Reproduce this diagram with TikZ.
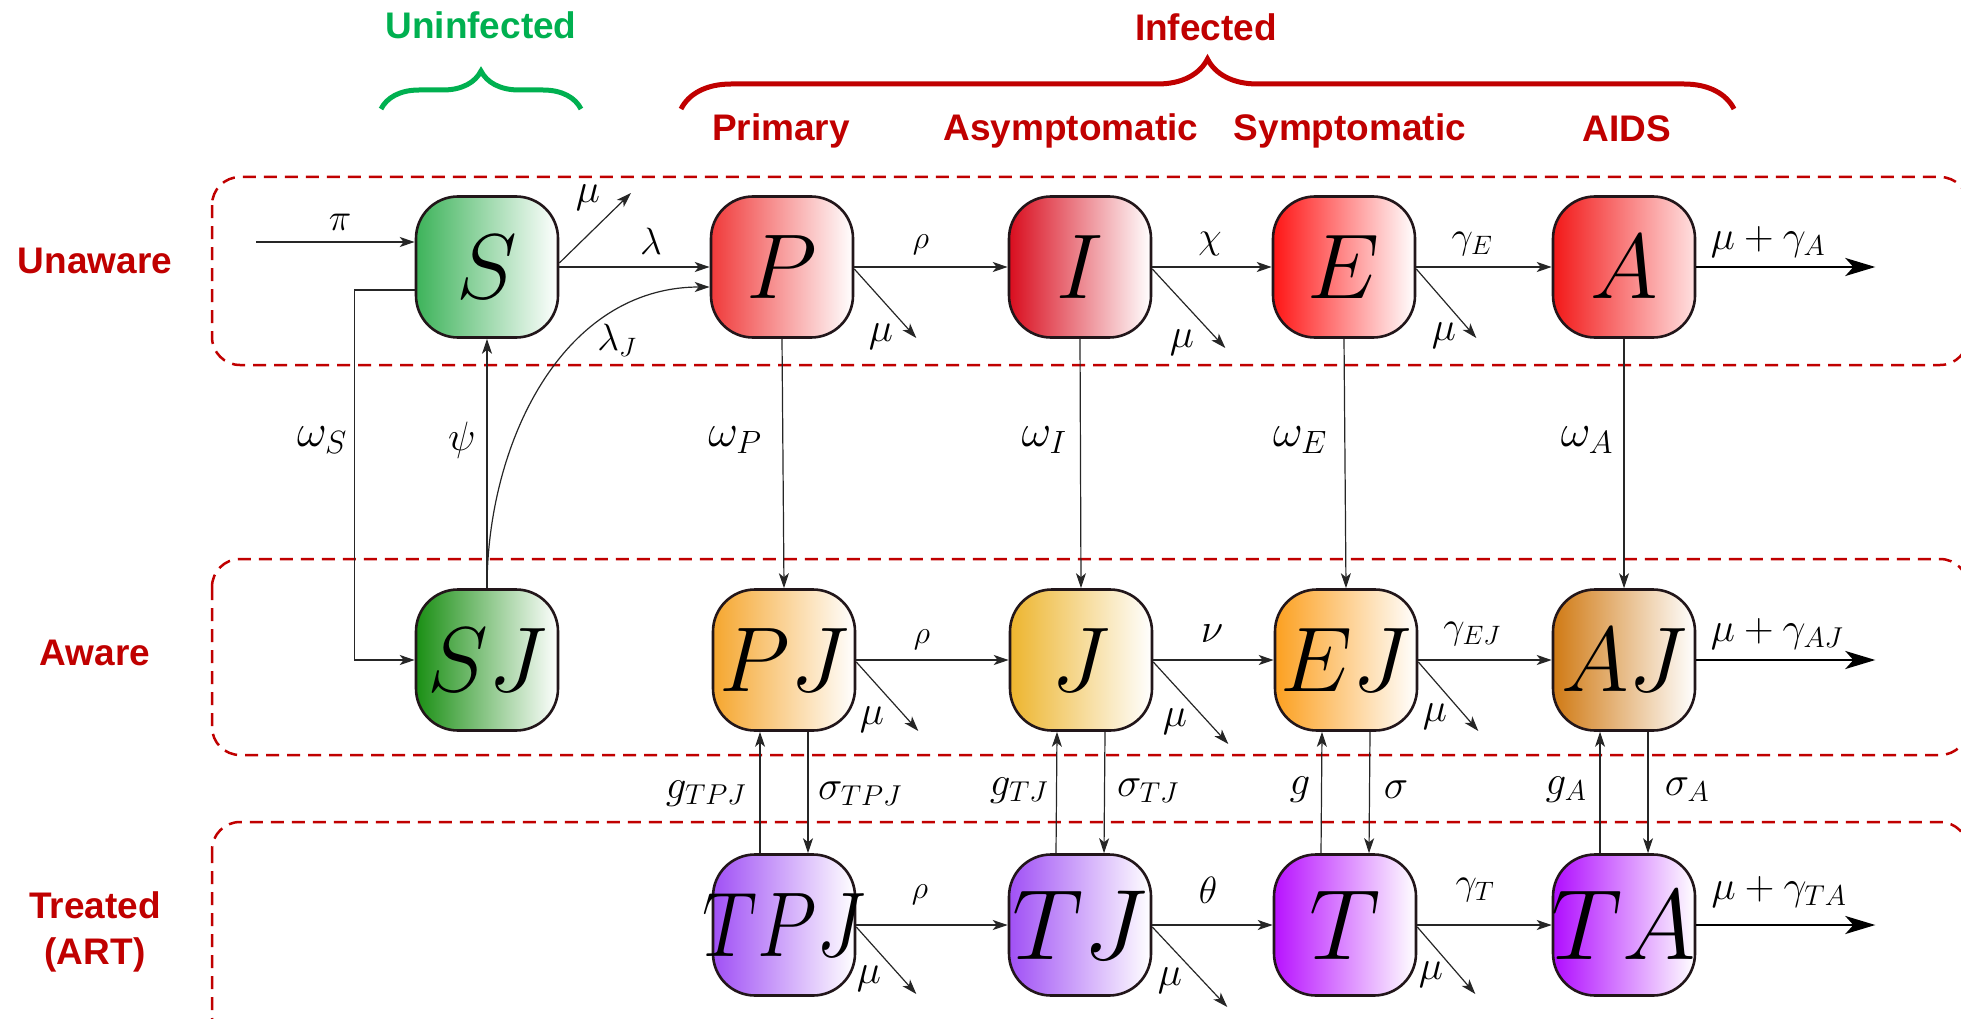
\RequirePackage{fix-cm}
\documentclass[tikz,border=0pt]{standalone}
\usepackage[no-math]{fontspec}
\newfontfamily\labfont{Liberation Sans}
\usepackage{graphicx}
\usetikzlibrary{arrows.meta,decorations.pathreplacing}

\definecolor{darkred}{HTML}{C00000}
\definecolor{lgreen}{HTML}{00B050}
\definecolor{boxline}{HTML}{22161A}
\definecolor{cS}{HTML}{3DB35A}
\definecolor{cSJ}{HTML}{1A8F14}
\definecolor{cP}{HTML}{F03A3A}
\definecolor{cI}{HTML}{D90D1E}
\definecolor{cE}{HTML}{FF1515}
\definecolor{cA}{HTML}{F21818}
\definecolor{cPJ}{HTML}{F5A62E}
\definecolor{cJ}{HTML}{EDB52E}
\definecolor{cEJ}{HTML}{FCA020}
\definecolor{cAJ}{HTML}{D07A14}
\definecolor{cTPJ}{HTML}{A050F5}
\definecolor{cTJ}{HTML}{A050F5}
\definecolor{cT}{HTML}{B812FF}
\definecolor{cTA}{HTML}{B00DFF}

\tikzset{
  comp/.style={draw=boxline, line width=2.6pt, rounded corners=42pt,
    minimum width=142pt, minimum height=141pt, inner sep=0pt,
    right color=white, font=\fontsize{92}{92}\selectfont},
  compb/.style={comp, font=\fontsize{100}{100}\selectfont},
  conn/.style={line width=1.2pt, draw=black!85,
    -{Stealth[length=15pt,width=10pt,inset=4pt]}},
  outconn/.style={line width=2.4pt,
    -{Stealth[length=30pt,width=18pt,inset=8pt]}},
  rate/.style={inner sep=0pt, font=\fontsize{41}{41}\selectfont},
  ratew/.style={inner sep=0pt, font=\fontsize{46}{46}\selectfont},
  ratem/.style={inner sep=0pt, font=\fontsize{38}{38}\selectfont},
  rates/.style={inner sep=0pt, font=\fontsize{32}{32}\selectfont},
  grp/.style={inner sep=0pt, text=darkred, align=center,
    font=\labfont\bfseries\fontsize{37}{46}\selectfont},
  zone/.style={draw=darkred, line width=2.5pt, dash pattern=on 13pt off 8pt,
    rounded corners=28pt},
}

\begin{document}
\begin{tikzpicture}[x=1pt,y=-1pt]
\useasboundingbox (0,0) rectangle (1961,1019);
\clip (0,0) rectangle (1961,1019);

% zones
\draw[zone] (212,177) rectangle (1968,365);
\draw[zone] (212,559) rectangle (1968,755);
\draw[zone] (212,822) rectangle (1968,1045);

% group labels
\node[grp] (lUnaware) at (95,261) {Unaware};
\node[grp] (lAware) at (95,653) {Aware};
\node[grp] (lTreated) at (95,932) {Treated\\(ART)};
\node[grp, text=lgreen] (lUninf) at (481,25) {Uninfected};
\node[grp] (lInf) at (1206,27) {Infected};
\node[grp] (lPrim) at (781,131) {Primary};
\node[grp] (lAsym) at (1071,131) {Asymptomatic};
\node[grp] (lSym) at (1350,131) {Symptomatic};
\node[grp] (lAids) at (1627,129) {AIDS};

% braces
\draw[lgreen, line width=5pt, decorate, decoration={brace, amplitude=38pt}]
  (381,109) -- (581,109);
\draw[darkred, line width=5pt, decorate, decoration={brace, amplitude=50pt}]
  (681,109) -- (1734,109);

% compartments
\node[comp, left color=cS] (S) at (487,267) {$S$};
\node[comp, left color=cP] (P) at (782,267) {$P$};
\node[comp, left color=cI] (I) at (1080,267) {$I$};
\node[comp, left color=cE] (E) at (1344,267) {$E$};
\node[comp, left color=cA, right color=red!12] (A) at (1624,267) {$A$};

\node[comp, left color=cSJ] (SJ) at (487,660) {$SJ$};
\node[comp, left color=cPJ] (PJ) at (784,660) {$PJ$};
\node[comp, left color=cJ] (J) at (1081,660) {$J$};
\node[comp, left color=cEJ] (EJ) at (1346,660) {$EJ$};
\node[comp, left color=cAJ] (AJ) at (1624,660) {$AJ$};

\node[comp, left color=cTPJ] (TPJ) at (784,925) {\makebox[0pt]{\scalebox{0.84}[1]{$TPJ$}}};
\node[compb, left color=cTJ] (TJ) at (1080,925) {$TJ$};
\node[compb, left color=cT] (T) at (1345,925) {$T$};
\node[compb, left color=cTA] (TA) at (1624,925) {\makebox[0pt]{$TA$}};

% free ends
\coordinate (pin) at (256,242);
\coordinate (muS) at (631,193);

% row 1
\draw[conn] (pin) -- (S.west |- pin);
\draw[conn] (S.east) -- (P.west);
\draw[conn] ([yshift=4pt]S.east) -- (muS);
\draw[conn] (P.east) -- (I.west);
\draw[conn] (I.east) -- (E.west);
\draw[conn] (E.east) -- (A.west);
\draw[outconn] (A.east) -- ++(179,0) coordinate (outA);
\draw[conn] ([yshift=-2pt]P.east) -- ++(62,69) coordinate (muP);
\draw[conn] ([yshift=-2pt]I.east) -- ++(73,79) coordinate (muI);
\draw[conn] ([yshift=-2pt]E.east) -- ++(60,69) coordinate (muE);

% S <-> SJ
\draw[conn] (SJ.north) -- (S.south);
\draw[conn] (SJ.north) to[out=90,in=180] ([yshift=-20pt]P.west);
\draw[conn] ([yshift=-23pt]S.west) -- ++(-60,0) |- (SJ.west);

% awareness
\draw[conn] (P.south) -- (PJ.north);
\draw[conn] (I.south) -- (J.north);
\draw[conn] (E.south) -- (EJ.north);
\draw[conn] (A.south) -- (AJ.north);

% row 2
\draw[conn] (PJ.east) -- (J.west);
\draw[conn] (J.east) -- (EJ.west);
\draw[conn] (EJ.east) -- (AJ.west);
\draw[outconn] (AJ.east) -- ++(179,0) coordinate (outAJ);
\draw[conn] ([yshift=-2pt]PJ.east) -- ++(62,69) coordinate (muPJ);
\draw[conn] ([yshift=-2pt]J.east) -- ++(75,82) coordinate (muJ);
\draw[conn] ([yshift=-2pt]EJ.east) -- ++(60,69) coordinate (muEJ);

% treatment
\draw[conn] ([xshift=-24pt]TPJ.north) -- ([xshift=-24pt]PJ.south);
\draw[conn] ([xshift=24pt]PJ.south) -- ([xshift=24pt]TPJ.north);
\draw[conn] ([xshift=-24pt]TJ.north) -- ([xshift=-24pt]J.south);
\draw[conn] ([xshift=24pt]J.south) -- ([xshift=24pt]TJ.north);
\draw[conn] ([xshift=-24pt]T.north) -- ([xshift=-24pt]EJ.south);
\draw[conn] ([xshift=24pt]EJ.south) -- ([xshift=24pt]T.north);
\draw[conn] ([xshift=-24pt]TA.north) -- ([xshift=-24pt]AJ.south);
\draw[conn] ([xshift=24pt]AJ.south) -- ([xshift=24pt]TA.north);

% row 3
\draw[conn] (TPJ.east) -- (TJ.west);
\draw[conn] (TJ.east) -- (T.west);
\draw[conn] (T.east) -- (TA.west);
\draw[outconn] (TA.east) -- ++(179,0) coordinate (outTA);
\draw[conn] ([yshift=-2pt]TPJ.east) -- ++(60,67) coordinate (muTPJ);
\draw[conn] ([yshift=-2pt]TJ.east) -- ++(75,80) coordinate (muTJ);
\draw[conn] ([yshift=-2pt]T.east) -- ++(58,67) coordinate (muT);

% rate labels row 1
\node[ratem] (l1) at (340,222) {$\pi$};
\node[ratem] (l2) at (651,241) {$\lambda$};
\node[rate] (l3) at (588,198) {$\mu$};
\node[ratem] (l4) at (617,340) {$\lambda_J$};
\node[rate] (l5) at (462,440) {$\psi$};
\node[ratew] (l6) at (322,440) {$\omega_S$};
\node[rates] (l7) at (921,245) {$\rho$};
\node[rate] (l8) at (881,337) {$\mu$};
\node[ratem] (l9) at (1210,244) {$\chi$};
\node[rate] (l10) at (1182,343) {$\mu$};
\node[ratem] (l11) at (1472,244) {$\gamma_E$};
\node[rate] (l12) at (1444,336) {$\mu$};
\node[rate] (l13) at (1768,242) {$\mu+\gamma_A$};
\node[ratew] (l14) at (735,440) {$\omega_P$};
\node[ratew] (l15) at (1044,440) {$\omega_I$};
\node[ratew] (l16) at (1300,440) {$\omega_E$};
\node[ratew] (l17) at (1587,440) {$\omega_A$};

% rate labels row 2
\node[rates] (l18) at (922,640) {$\rho$};
\node[rate] (l19) at (872,720) {$\mu$};
\node[rate] (l20) at (1212,634) {$\nu$};
\node[rate] (l21) at (1175,722) {$\mu$};
\node[ratem] (l22) at (1472,634) {$\gamma_{EJ}$};
\node[rate] (l23) at (1435,717) {$\mu$};
\node[rate] (l24) at (1777,634) {$\mu+\gamma_{AJ}$};

% treatment labels
\node[rate] (l25) at (706,794) {$g_{TPJ}$};
\node[rate] (l26) at (860,794) {$\sigma_{TPJ}$};
\node[rate] (l27) at (1019,791) {$g_{TJ}$};
\node[rate] (l28) at (1148,791) {$\sigma_{TJ}$};
\node[rate] (l29) at (1300,790) {$g$};
\node[rate] (l30) at (1396,790) {$\sigma$};
\node[rate] (l31) at (1566,790) {$g_A$};
\node[rate] (l32) at (1687,790) {$\sigma_A$};

% rate labels row 3
\node[rates] (l33) at (920,895) {$\rho$};
\node[rate] (l34) at (869,979) {$\mu$};
\node[ratem] (l35) at (1208,890) {$\theta$};
\node[rate] (l36) at (1170,981) {$\mu$};
\node[ratem] (l37) at (1475,890) {$\gamma_T$};
\node[rate] (l38) at (1431,975) {$\mu$};
\node[rate] (l39) at (1779,892) {$\mu+\gamma_{TA}$};
\end{tikzpicture}
\end{document}
